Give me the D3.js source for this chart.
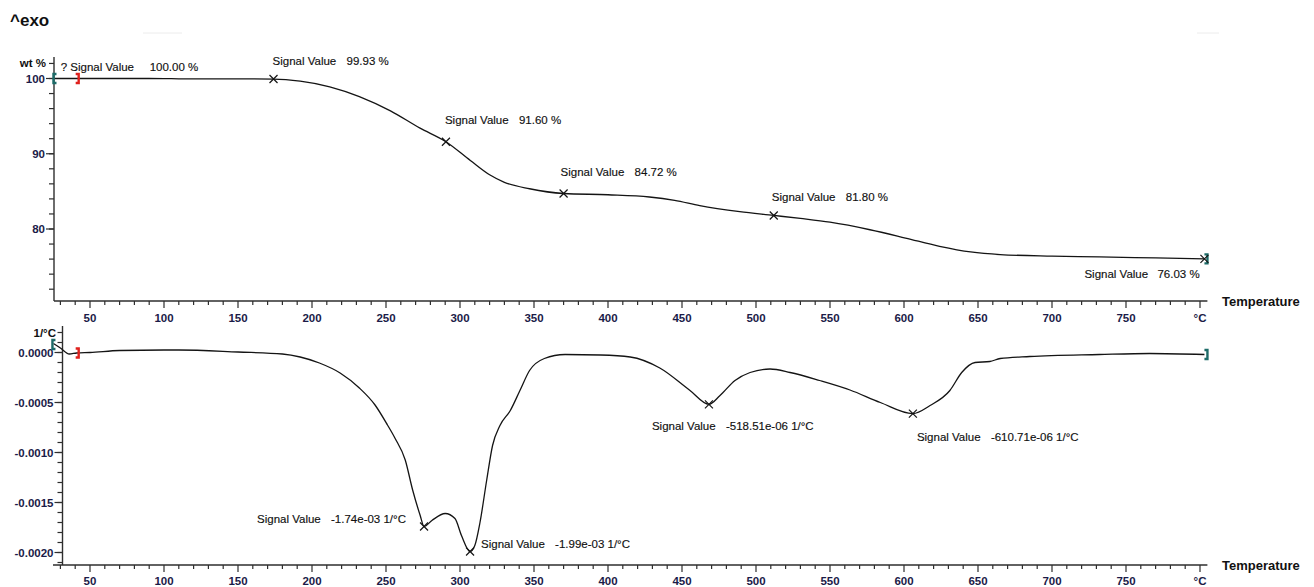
<!DOCTYPE html>
<html>
<head>
<meta charset="utf-8">
<script src="https://cdn.jsdelivr.net/npm/d3@7"></script>
<style>
  html, body { margin: 0; padding: 0; background: #fff; }
  svg { display: block; }
  text { font-family: "Liberation Sans", Arial, sans-serif; }
</style>
</head>
<body>
<svg id="chart" width="1314" height="587"></svg>
<script>
// Temperature axis ticks (°C)
const tempMajorTicks = [50, 100, 150, 200, 250, 300, 350, 400, 450, 500, 550, 600, 650, 700, 750, 800];
const tempTickLabels = ["50", "100", "150", "200", "250", "300", "350", "400", "450", "500", "550", "600", "650", "700", "750", "°C"];

// Mass loss curve (TGA): temperature in °C, mass in wt %
const tgaTemp = [26, 41, 60, 80, 100, 110, 130, 150, 174, 192, 212, 232, 253, 273, 290.5, 307, 320, 330, 347, 370,
                 400, 428, 445, 462, 489, 512, 530, 550, 577, 601, 624, 645, 665, 700, 732, 770, 803];
const tgaMass = [100.0, 100.0, 100.0, 100.0, 99.99, 99.96, 99.95, 99.95, 99.93, 99.65, 98.9, 97.6, 95.7, 93.4, 91.6,
                 89.1, 87.2, 86.2, 85.35, 84.72, 84.55, 84.25, 83.8, 83.1, 82.3, 81.8, 81.4, 80.9, 79.9, 78.8, 77.7,
                 76.95, 76.6, 76.4, 76.3, 76.15, 76.03];

// Derivative curve (DTG): temperature in °C, rate in 1/°C
const dtgTemp = [25.3, 30, 36, 41, 50, 70, 100, 110, 150, 180, 192, 205, 219, 232, 242.6, 251, 256, 263, 268, 273,
                 275.7, 281, 290, 296.6, 301, 306.8, 310, 313.5, 318, 322, 327, 334, 340.5, 347, 357, 371, 395, 415,
                 435, 455, 468.2, 475.7, 485.8, 496, 509.5, 523, 543, 563.5, 584, 606, 617.6, 631, 639, 648, 658, 665,
                 685, 732, 766, 803];
const dtgRate = [0.00009, 0.000045, -0.000015, -0.000005, 0, 0.00002, 0.000025, 0.000025, 0.000005, -0.000015,
                 -0.000045, -0.000105, -0.000205, -0.000355, -0.000525, -0.000725, -0.000855, -0.001075, -0.001375,
                 -0.001625, -0.00174, -0.00168, -0.00161, -0.00166, -0.00183, -0.00199, -0.00193, -0.0017, -0.00128,
                 -0.00093, -0.00073, -0.00058, -0.00038, -0.00018, -0.00006, -0.00002, -0.000025, -0.000045,
                 -0.000155, -0.000375, -0.00051851, -0.00043, -0.00028, -0.0002, -0.000165, -0.0002, -0.00028,
                 -0.000375, -0.0005, -0.00061071, -0.00053, -0.00038, -0.0002, -0.0001, -0.00009, -0.00006, -0.00004,
                 -0.00002, -0.00001, -0.00002];

// Evaluated points on the TGA curve
const tgaMarkTemp = [41, 174, 290.5, 370, 512, 803];
const tgaMarkMass = [100.0, 99.93, 91.6, 84.72, 81.8, 76.03];
const tgaMarkText = ["100.00 %", "99.93 %", "91.60 %", "84.72 %", "81.80 %", "76.03 %"];
const tgaMarkPrefix = ["? Signal Value", "Signal Value", "Signal Value", "Signal Value", "Signal Value", "Signal Value"];

// Evaluated points on the DTG curve
const dtgMarkTemp = [275.7, 306.8, 468.2, 606];
const dtgMarkRate = [-0.00174, -0.00199, -0.00051851, -0.00061071];
const dtgMarkText = ["-1.74e-03 1/°C", "-1.99e-03 1/°C", "-518.51e-06 1/°C", "-610.71e-06 1/°C"];

// Axis ticks
const massMajorTicks = [80, 90, 100];
const rateMajorTicks = [0, -0.0005, -0.001, -0.0015, -0.002];
const rateTickLabels = ["0.0000", "-0.0005", "-0.0010", "-0.0015", "-0.0020"];

const svg = d3.select("#chart");
const INK = "#141414";
const AXIS = "#2e2e2e";
const TICKTXT = "#1b1b48";
const TEAL = "#1d6b68";

svg.append("rect").attr("width", 1314).attr("height", 587).attr("fill", "#fff");

// Shared temperature scale
const x = d3.scaleLinear().domain([30, 800]).range([60.4, 1200]);

// Panel scales
const yTop = d3.scaleLinear().domain([100, 80]).range([78.5, 229]);
const yBot = d3.scaleLinear().domain([0, -0.002]).range([352.5, 552.5]);

// Header
svg.append("text").attr("x", 10).attr("y", 26).attr("font-size", 17).attr("font-weight", "bold")
   .attr("fill", "#111").text("^exo");
svg.append("line").attr("x1", 143).attr("x2", 182).attr("y1", 33).attr("y2", 33)
   .attr("stroke", "#ececec").attr("stroke-width", 1);
svg.append("line").attr("x1", 1197).attr("x2", 1219).attr("y1", 33).attr("y2", 33)
   .attr("stroke", "#ececec").attr("stroke-width", 1);

// ---- temperature axis helper ----
function drawTempAxis(yPos, xStart, labelY, titleY) {
  const g = svg.append("g");
  g.append("line").attr("x1", xStart).attr("x2", x(805)).attr("y1", yPos).attr("y2", yPos)
    .attr("stroke", AXIS).attr("stroke-width", 1.4);
  const minor = d3.range(30, 801, 10);
  g.selectAll("line.tk").data(minor).join("line").attr("class", "tk")
    .attr("x1", d => x(d)).attr("x2", d => x(d))
    .attr("y1", yPos).attr("y2", d => yPos + (d % 50 === 0 ? 7 : 4))
    .attr("stroke", AXIS).attr("stroke-width", 1.2);
  g.selectAll("text.tl").data(tempMajorTicks).join("text").attr("class", "tl")
    .attr("x", d => x(d)).attr("y", labelY).attr("text-anchor", "middle")
    .attr("font-size", 11.5).attr("fill", TICKTXT).attr("font-weight", "bold")
    .text((d, i) => tempTickLabels[i]);
  g.append("text").attr("x", 1222).attr("y", titleY).attr("font-size", 13).attr("font-weight", "bold")
    .attr("fill", "#111").text("Temperature");
}

// ---- vertical axis helper ----
function drawValueAxis(scale, xPos, yTopPx, yBotPx, minorTicks, majorTicks, labels, unit, unitX) {
  const g = svg.append("g");
  g.append("line").attr("x1", xPos).attr("x2", xPos).attr("y1", yTopPx).attr("y2", yBotPx)
    .attr("stroke", AXIS).attr("stroke-width", 1.4);
  g.selectAll("line.mn").data(minorTicks).join("line").attr("class", "mn")
    .attr("x1", xPos - 5).attr("x2", xPos).attr("y1", d => scale(d)).attr("y2", d => scale(d))
    .attr("stroke", AXIS).attr("stroke-width", 1.2);
  g.selectAll("line.mj").data(majorTicks).join("line").attr("class", "mj")
    .attr("x1", xPos - 8).attr("x2", xPos).attr("y1", d => scale(d)).attr("y2", d => scale(d))
    .attr("stroke", AXIS).attr("stroke-width", 1.2);
  g.selectAll("text.vl").data(majorTicks).join("text").attr("class", "vl")
    .attr("x", xPos - 9).attr("y", d => scale(d) + 4).attr("text-anchor", "end")
    .attr("font-size", 11.5).attr("font-weight", "bold").attr("fill", TICKTXT)
    .text((d, i) => labels[i]);
  g.append("text").attr("x", unitX.x).attr("y", unitX.y).attr("text-anchor", "end")
    .attr("font-size", 11.5).attr("font-weight", "bold").attr("fill", "#111").text(unit);
}

// Top panel axes
drawValueAxis(yTop, 54, 57, 301, d3.range(72, 103, 2), massMajorTicks,
              massMajorTicks.map(String), "wt %", { x: 46, y: 67 });
drawTempAxis(301, 54, 322, 306);

// Bottom panel axes
drawValueAxis(yBot, 62.5, 326, 565, d3.range(-21, 3, 1).map(k => k / 10000), rateMajorTicks,
              rateTickLabels, "1/°C", { x: 56, y: 337 });
drawTempAxis(565, 53, 585, 570);

// Curves
const line = (sy) => d3.line().x(d => x(d[0])).y(d => sy(d[1])).curve(d3.curveMonotoneX);
const tgaPts = tgaTemp.map((t, i) => [t, tgaMass[i]]);
const dtgPts = dtgTemp.map((t, i) => [t, dtgRate[i]]);

svg.append("path").datum(tgaPts).attr("d", line(yTop))
   .attr("fill", "none").attr("stroke", INK).attr("stroke-width", 1.3);
svg.append("path").datum(dtgPts).attr("d", line(yBot))
   .attr("fill", "none").attr("stroke", INK).attr("stroke-width", 1.3);

// Range brackets at the curve ends and the evaluation start
function bracket(px, py, dir, color) {
  // dir = +1 for "[" , -1 for "]"
  const w = 3 * dir;
  svg.append("path")
    .attr("d", `M${px + w},${py - 4.5}L${px},${py - 4.5}L${px},${py + 4.5}L${px + w},${py + 4.5}`)
    .attr("fill", "none").attr("stroke", color).attr("stroke-width", 2.4);
}
bracket(x(tgaTemp[0]) - 1, yTop(tgaMass[0]), 1, TEAL);
bracket(x(41) + 2, yTop(100), -1, "#e0201c");
bracket(x(tgaTemp[tgaTemp.length - 1]) + 3, yTop(tgaMass[tgaMass.length - 1]), -1, TEAL);
bracket(x(dtgTemp[0]) - 1, yBot(dtgRate[0]) + 1, 1, TEAL);
bracket(x(41) + 2, yBot(-0.000005), -1, "#e0201c");
bracket(x(dtgTemp[dtgTemp.length - 1]) + 3, yBot(dtgRate[dtgRate.length - 1]), -1, TEAL);

// Cross markers
const crossPath = "M-4,-4L4,4M-4,4L4,-4";
function cross(px, py) {
  svg.append("path").attr("d", crossPath).attr("transform", `translate(${px},${py})`)
    .attr("fill", "none").attr("stroke", INK).attr("stroke-width", 1.2);
}

// Annotation offsets (relative to the evaluated point) and the gap before the value text
const tgaLabelOffset = [[-16, -8], [-1, -14], [-1, -18], [-3, -17], [-2, -14], [-120, 19]];
const tgaValueGap = [89, 74, 74, 74, 74, 73];
const dtgLabelOffset = [[-167, -4], [11, -4], [-57, 26], [4, 27]];

function annotate(px, py, off, prefix, value, gap) {
  const g = svg.append("g").attr("transform", `translate(${px + off[0]},${py + off[1]})`);
  g.append("text").attr("x", 0).attr("y", 0).attr("font-size", 11.5).attr("fill", "#111")
    .attr("stroke", "#111").attr("stroke-width", 0.15).text(prefix);
  g.append("text").attr("x", gap).attr("y", 0).attr("font-size", 11.5).attr("fill", "#111")
    .attr("stroke", "#111").attr("stroke-width", 0.15).text(value);
}

tgaMarkTemp.forEach((t, i) => {
  const px = x(t), py = yTop(tgaMarkMass[i]);
  if (i > 0) cross(px, py);
  annotate(px, py, tgaLabelOffset[i], tgaMarkPrefix[i], tgaMarkText[i], tgaValueGap[i]);
});
dtgMarkTemp.forEach((t, i) => {
  const px = x(t), py = yBot(dtgMarkRate[i]);
  cross(px, py);
  annotate(px, py, dtgLabelOffset[i], "Signal Value", dtgMarkText[i], 74);
});
</script>
</body>
</html>
